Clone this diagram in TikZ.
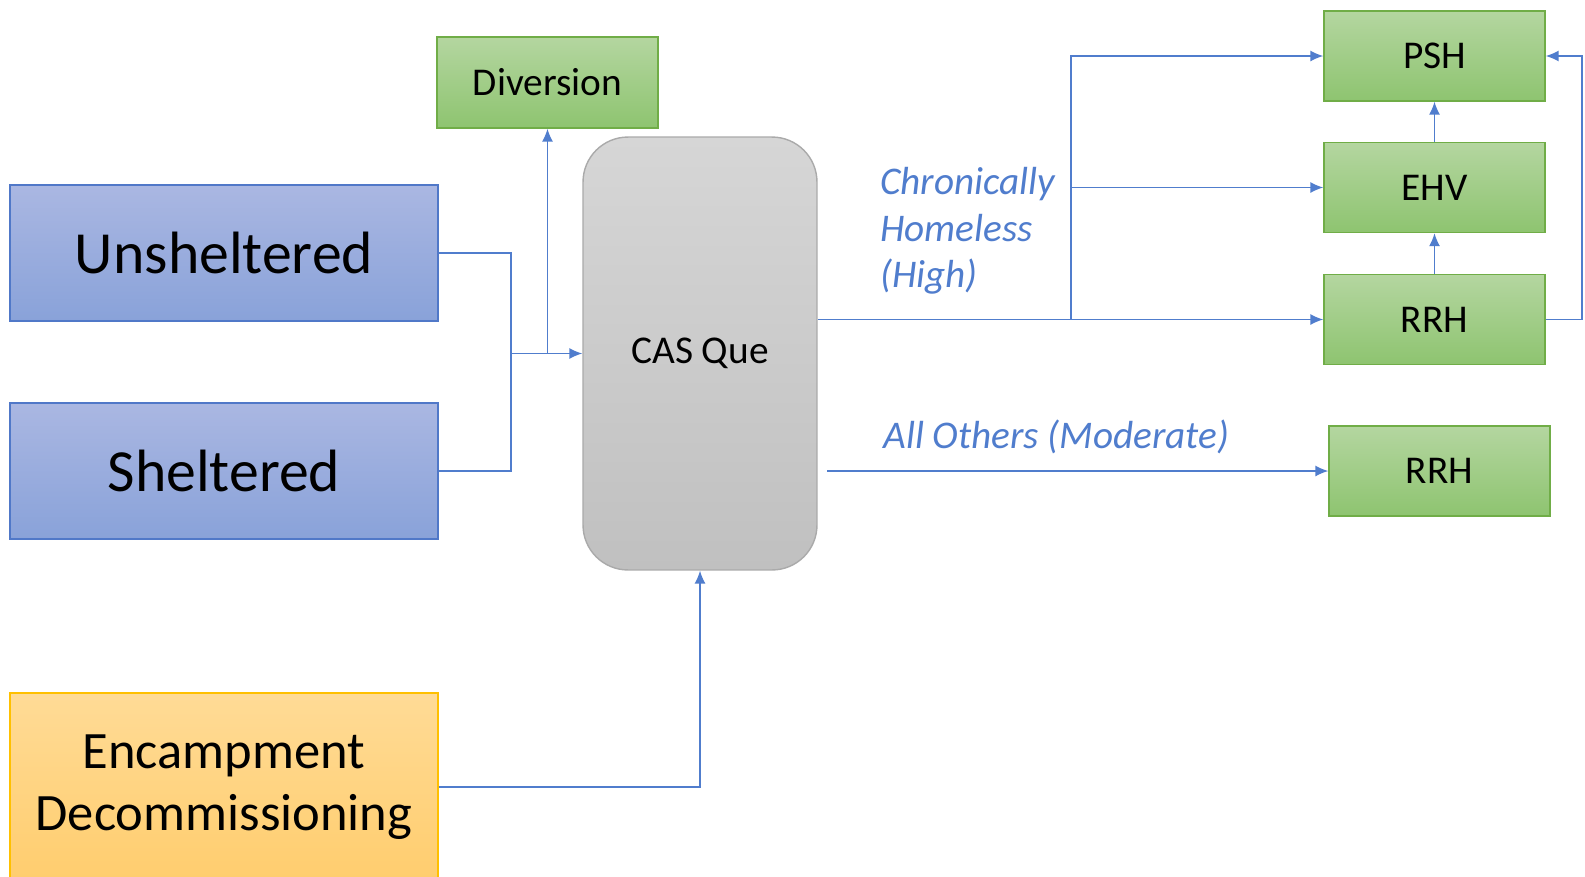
\documentclass[tikz,border=0pt]{standalone}
\usepackage{fontspec}
\setmainfont{Carlito}
\usetikzlibrary{arrows.meta}
\definecolor{lineblue}{RGB}{80,125,205}
\definecolor{blueedge}{RGB}{80,120,200}
\definecolor{bluetop}{RGB}{170,183,226}
\definecolor{bluebot}{RGB}{137,162,217}
\definecolor{greenedge}{RGB}{112,173,71}
\definecolor{greentop}{RGB}{180,214,160}
\definecolor{greenbot}{RGB}{142,196,112}
\definecolor{orangeedge}{RGB}{255,192,0}
\definecolor{orangetop}{RGB}{255,219,150}
\definecolor{orangebot}{RGB}{255,205,110}
\definecolor{grayedge}{RGB}{170,170,170}
\definecolor{graytop}{RGB}{214,214,214}
\definecolor{graybot}{RGB}{192,192,192}

\begin{document}
\begin{tikzpicture}[x=0.02cm,y=-0.02cm,
    box/.style={draw, line width=0.8pt, inner sep=0pt, align=center},
    bigbox/.style={box, draw=blueedge, top color=bluetop, bottom color=bluebot,
      minimum width=8.56cm, minimum height=2.72cm, font=\fontsize{34}{40}\selectfont},
    encbox/.style={box, draw=orangeedge, top color=orangetop, bottom color=orangebot,
      minimum width=8.56cm, minimum height=3.76cm, font=\fontsize{29.9}{35.3}\selectfont},
    greenbox/.style={box, draw=greenedge, top color=greentop, bottom color=greenbot,
      minimum width=4.42cm, minimum height=1.8cm, font=\fontsize{22.4}{26}\selectfont},
    quebox/.style={box, draw=grayedge, top color=graytop, bottom color=graybot,
      rounded corners=0.9cm, minimum width=4.68cm, minimum height=8.66cm,
      font=\fontsize{22.4}{26}\selectfont},
    lbl/.style={text=lineblue, inner sep=0pt, align=left,
      font=\fontsize{22.3}{26.5}\selectfont\itshape},
    link/.style={draw=lineblue, line width=0.8pt},
    flow/.style={link, -{Latex[length=0.26cm,width=0.22cm]}}]

    \fill[white] (0,0) rectangle (1585,876);
    \useasboundingbox (0,0) rectangle (1585,876);

    % sources
    \node[bigbox] (unsh) at (224,253) {Unsheltered};
    \node[bigbox] (shel) at (224,471) {Sheltered};
    \node[encbox] (enc) at (224,787) {Encampment\\Decommissioning};

    % queue and diversion
    \node[greenbox, minimum height=1.82cm] (div) at (547.5,82.5) {Diversion};
    \node[quebox] (cas) at (700,353.5) {CAS Que};

    % housing
    \node[greenbox] (psh) at (1434.5,56) {PSH};
    \node[greenbox] (ehv) at (1434.5,187.5) {EHV};
    \node[greenbox] (rrh) at (1434.5,319.5) {RRH};
    \node[greenbox] (rrh2) at (1439.5,471) {RRH};

    \node[lbl, anchor=west] (chron) at (880,231) {Chronically\\Homeless\\(High)};
    \node[lbl, anchor=west] (others) at (883,437) {All Others (Moderate)};

    \coordinate (merge) at (511,353.5);
    \coordinate (split) at (1071,319.5);
    \coordinate (back) at (1582,0);
    \coordinate (start) at (827,471);

    \draw[link] (unsh.east) -| (merge);
    \draw[link] (shel.east) -| (merge);
    \draw[flow] (merge) -- (cas.west);
    \draw[flow] (div.south |- merge) -- (div.south);
    \draw[flow] (enc.east) -| (cas.south);

    \draw[flow] (cas.east |- split) -- (split) -- (rrh.west);
    \draw[flow] (split) |- (psh.west);
    \draw[flow] (split |- ehv.west) -- (ehv.west);
    \draw[flow] (rrh.north) -- (ehv.south);
    \draw[flow] (ehv.north) -- (psh.south);
    \draw[flow] (rrh.east) -- (rrh.east -| back) |- (psh.east);

    \draw[flow] (start) -- (rrh2.west);

\end{tikzpicture}
\end{document}
